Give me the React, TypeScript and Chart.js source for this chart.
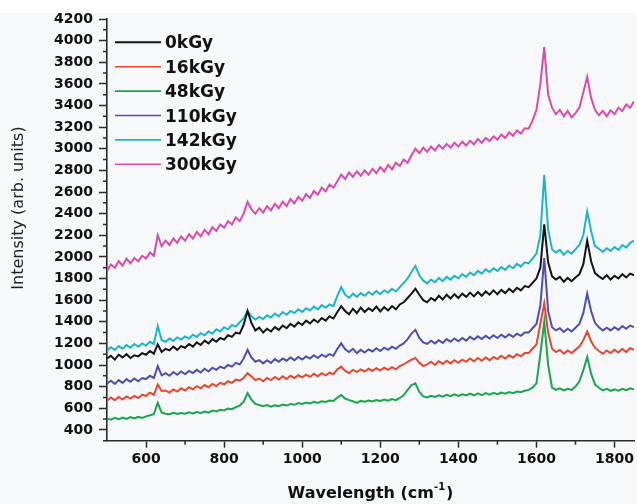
import React, { useEffect, useRef } from 'react';
import { Chart, registerables } from 'chart.js';

Chart.register(...registerables);

// Wavenumber axis: 500 ... 1850 cm-1, sampled every 10 cm-1 (136 points)
const WN_START = 500;
const WN_STEP = 10;
const WN_COUNT = 136;
const wavenumbers: number[] = Array.from({ length: WN_COUNT }, (_, i) => WN_START + i * WN_STEP);

const seriesLabels = ['0kGy', '16kGy', '48kGy', '110kGy', '142kGy', '300kGy'];
const seriesColors = ['#141414', '#e8442e', '#19a54c', '#4b4eb0', '#1cb4c9', '#d94ba8'];

const s0kGy = [
  1060, 1085, 1050, 1095, 1070, 1100, 1065, 1090, 1080, 1110,
  1095, 1130, 1105, 1190, 1120, 1150, 1135, 1170, 1140, 1175,
  1160, 1195, 1170, 1210, 1185, 1225, 1200, 1240, 1215, 1250,
  1235, 1275, 1260, 1300, 1290, 1370, 1500, 1390, 1320, 1345,
  1300, 1335, 1310, 1350, 1325, 1365, 1340, 1380, 1355, 1395,
  1370, 1410, 1385, 1420, 1395, 1435, 1410, 1450, 1430, 1490,
  1545, 1500, 1470, 1520, 1480, 1530, 1490, 1525, 1500, 1540,
  1495, 1535, 1505, 1545, 1515, 1560, 1580, 1620, 1660, 1705,
  1650, 1600, 1580, 1620, 1595, 1640, 1605, 1650, 1615, 1655,
  1620, 1660, 1630, 1670, 1635, 1675, 1640, 1680, 1650, 1690,
  1655, 1695, 1665, 1705, 1675, 1715, 1690, 1730, 1720, 1760,
  1800, 1900, 2300, 1950, 1820, 1790, 1815, 1770, 1805, 1775,
  1810, 1840, 1930, 2150, 1960, 1850, 1820, 1795, 1830, 1790,
  1825, 1800, 1840, 1810, 1845, 1830,
];

const s16kGy = [
  670, 700, 675, 705, 680, 710, 690, 715, 695, 725,
  715, 745, 725, 820, 760, 765, 745, 775, 755, 785,
  765, 795, 775, 805, 785, 815, 795, 825, 805, 835,
  820, 850, 835, 865, 855, 880, 925, 895, 860, 875,
  850, 880, 860, 890, 865, 895, 870, 900, 880, 905,
  885, 910, 890, 920, 895, 925, 905, 930, 915, 960,
  985, 945, 925, 955, 935, 960, 940, 965, 945, 970,
  950, 975, 955, 980, 960, 990, 1005, 1030, 1050, 1065,
  1020, 990, 1005, 1030, 1000, 1035, 1010, 1040, 1015, 1045,
  1020, 1050, 1030, 1060, 1035, 1065, 1040, 1070, 1045, 1075,
  1055, 1085, 1060, 1090, 1070, 1100, 1080, 1110, 1110, 1150,
  1190, 1380, 1570, 1300, 1150, 1120, 1140, 1105, 1135, 1110,
  1140, 1170, 1230, 1310, 1220, 1160, 1130, 1105, 1135, 1110,
  1140, 1115, 1150, 1120, 1155, 1140,
];

const s48kGy = [
  505, 495, 512, 500, 515, 502, 518, 505, 520, 510,
  525, 535, 545, 650, 560, 550, 545, 558, 548, 555,
  550, 562, 552, 565, 556, 570, 560, 578, 570, 585,
  580, 598, 592, 610, 625, 660, 740, 680, 640, 630,
  618, 630, 615, 628, 620, 635, 625, 640, 632, 648,
  640, 652, 645, 660, 650, 665, 658, 672, 668, 700,
  722, 690, 675, 665, 650, 668, 660, 672, 662, 675,
  668, 680, 670, 685, 675, 695, 720, 770, 815, 830,
  750, 710, 700, 715, 705, 720, 708, 725, 712, 728,
  715, 730, 718, 735, 720, 738, 722, 740, 726, 742,
  730, 745, 735, 750, 740, 755, 748, 762, 770, 790,
  830, 1100, 1400, 1000, 790, 770, 785, 765, 780, 770,
  800, 850, 950, 1075, 920, 820, 790, 765, 780, 760,
  775, 762, 780, 768, 785, 772,
];

const s110kGy = [
  830, 855, 825, 860, 835, 870, 845, 875, 850, 880,
  870, 900, 880, 990, 905, 925, 900, 935, 910, 940,
  915, 945, 925, 955, 930, 965, 940, 975, 955, 985,
  970, 1000, 985, 1020, 1005, 1060, 1140, 1070, 1030, 1045,
  1015, 1045, 1020, 1055, 1030, 1060, 1040, 1070, 1045, 1075,
  1050, 1080, 1060, 1090, 1065, 1095, 1075, 1100, 1085, 1150,
  1200, 1145, 1120, 1150, 1110, 1140, 1115, 1145, 1125, 1155,
  1130, 1160, 1140, 1170, 1150, 1180, 1200, 1240, 1290, 1325,
  1250, 1210, 1195, 1225, 1200, 1230, 1205, 1240, 1215, 1245,
  1220, 1250, 1225, 1260, 1235, 1265, 1240, 1270, 1245, 1275,
  1250, 1280, 1255, 1285, 1260, 1290, 1270, 1300, 1300, 1340,
  1380, 1550, 1990, 1500, 1350, 1320, 1340, 1305, 1335, 1310,
  1345, 1380, 1480, 1660, 1500, 1390, 1350, 1320, 1345, 1320,
  1350, 1325, 1360, 1335, 1365, 1350,
];

const s142kGy = [
  1135, 1165, 1140, 1175, 1150, 1185, 1160, 1195, 1170, 1200,
  1180, 1215, 1195, 1360, 1230, 1215, 1245, 1225, 1255, 1235,
  1265, 1245, 1280, 1260, 1295, 1275, 1310, 1290, 1330, 1310,
  1350, 1330, 1370, 1355, 1395, 1430, 1500, 1450, 1420, 1445,
  1425, 1460, 1440, 1475, 1450, 1490, 1465, 1500, 1480, 1515,
  1490, 1525, 1505, 1540, 1515, 1555, 1530, 1560, 1545, 1640,
  1720, 1650, 1620, 1660, 1630, 1665, 1640, 1675, 1650, 1685,
  1655, 1690, 1670, 1705, 1680, 1720, 1760, 1800, 1860, 1915,
  1830, 1780, 1755, 1790, 1765, 1805, 1775, 1815, 1790, 1825,
  1800, 1840, 1815, 1855, 1830, 1870, 1845, 1885, 1860, 1895,
  1870, 1905, 1880, 1920, 1895, 1935, 1910, 1950, 1940, 1985,
  2030, 2200, 2760, 2250, 2070, 2040, 2065, 2020, 2055, 2030,
  2070, 2110, 2200, 2420, 2240, 2100, 2075, 2045, 2080, 2055,
  2090, 2065, 2110, 2085, 2130, 2150,
];

const s300kGy = [
  1870, 1930, 1900, 1960, 1920, 1985, 1940, 1990, 1960, 2010,
  1985, 2040, 2010, 2200, 2100, 2150, 2110, 2170, 2130, 2190,
  2150, 2210, 2170, 2230, 2190, 2250, 2210, 2275, 2240, 2300,
  2270, 2330, 2300, 2365, 2330, 2400, 2510, 2440, 2400, 2450,
  2410, 2470, 2430, 2490, 2450, 2510, 2470, 2535, 2495, 2555,
  2520, 2580, 2545, 2610, 2575, 2640, 2605, 2670, 2640, 2700,
  2760, 2720, 2780, 2740, 2790, 2750, 2800, 2760, 2815, 2775,
  2830, 2790, 2850, 2810, 2870, 2840, 2900, 2870, 2940, 3000,
  2960, 3010, 2970, 3020, 2985, 3035, 3000, 3045, 3010, 3055,
  3020, 3065, 3030, 3075, 3040, 3090, 3055, 3100, 3070, 3115,
  3085, 3130, 3100, 3150, 3120, 3170, 3140, 3190, 3185, 3260,
  3360, 3600, 3940, 3500, 3380, 3320, 3360, 3300, 3350, 3290,
  3330, 3380, 3520, 3665, 3470, 3360, 3310, 3350, 3300, 3355,
  3320, 3380, 3350, 3410, 3380, 3440,
];

const seriesValues = [s0kGy, s16kGy, s48kGy, s110kGy, s142kGy, s300kGy];

// Axis ticks
const xMajorTicks = [600, 800, 1000, 1200, 1400, 1600, 1800];
const xMinorTicks = [500, 700, 900, 1100, 1300, 1500, 1700];
const yMajorTicks = [400, 600, 800, 1000, 1200, 1400, 1600, 1800, 2000, 2200, 2400, 2600, 2800, 3000, 3200, 3400, 3600, 3800, 4000, 4200];
const yMinorTicks = [300, 500, 700, 900, 1100, 1300, 1500, 1700, 1900, 2100, 2300, 2500, 2700, 2900, 3100, 3300, 3500, 3700, 3900, 4100];

const X_MIN = 500;
const X_MAX = 1850;
const Y_MIN = 300;
const Y_MAX = 4200;

const xTitle = 'Wavelength (cm';
const xTitleSup = '-1';
const yTitle = 'Intensity (arb. units)';

const TICK_FONT = { family: 'DejaVu Sans', weight: 'bold' as const, size: 14 };

export default function App() {
  const canvasRef = useRef<HTMLCanvasElement | null>(null);

  useEffect(() => {
    const canvas = canvasRef.current;
    if (!canvas) return;

    const bgPlugin = {
      id: 'bgPlugin',
      beforeDraw(chart: any) {
        const { ctx, width, height } = chart;
        ctx.save();
        ctx.fillStyle = '#ffffff';
        ctx.fillRect(0, 0, width, height);
        ctx.fillStyle = '#f7f8fa';
        ctx.fillRect(0, 13, width, height - 13);
        ctx.restore();
      },
    };

    const decorPlugin = {
      id: 'decorPlugin',
      afterDraw(chart: any) {
        const { ctx, chartArea } = chart;
        const xs = chart.scales.x;
        const ys = chart.scales.y;
        ctx.save();
        // minor ticks
        ctx.strokeStyle = '#2a2a2a';
        ctx.lineWidth = 1.5;
        ctx.beginPath();
        for (const v of yMinorTicks) {
          const py = ys.getPixelForValue(v);
          ctx.moveTo(chartArea.left - 4, py);
          ctx.lineTo(chartArea.left, py);
        }
        for (const v of xMinorTicks) {
          if (v === X_MIN) continue;
          const px = xs.getPixelForValue(v);
          ctx.moveTo(px, chartArea.bottom);
          ctx.lineTo(px, chartArea.bottom + 4);
        }
        ctx.stroke();

        // legend
        const lx0 = 115;
        const lx1 = 161;
        const ly0 = 42.3;
        const ldy = 24.4;
        ctx.font = 'bold 17px "DejaVu Sans"';
        ctx.textAlign = 'left';
        ctx.textBaseline = 'alphabetic';
        chart.data.datasets.forEach((ds: any, i: number) => {
          const y = ly0 + i * ldy;
          ctx.strokeStyle = ds.borderColor;
          ctx.lineWidth = i === 0 ? 2 : 1.6;
          ctx.beginPath();
          ctx.moveTo(lx0, y);
          ctx.lineTo(lx1, y);
          ctx.stroke();
          ctx.fillStyle = '#111';
          ctx.fillText(ds.label, 165, y + 6);
        });

        // x title with superscript
        ctx.fillStyle = '#111';
        ctx.font = 'bold 16px "DejaVu Sans"';
        const w1 = ctx.measureText(xTitle).width;
        ctx.font = 'bold 10px "DejaVu Sans"';
        const w2 = ctx.measureText(xTitleSup).width;
        ctx.font = 'bold 16px "DejaVu Sans"';
        const w3 = ctx.measureText(')').width;
        const total = w1 + w2 + w3 + 1;
        const cx = (chartArea.left + chartArea.right) / 2;
        let tx = cx - total / 2;
        const tb = 498;
        ctx.textAlign = 'left';
        ctx.fillText(xTitle, tx, tb);
        tx += w1;
        ctx.font = 'bold 10px "DejaVu Sans"';
        ctx.fillText(xTitleSup, tx, tb - 8);
        tx += w2 + 1;
        ctx.font = 'bold 16px "DejaVu Sans"';
        ctx.fillText(')', tx, tb);

        // y title
        ctx.save();
        ctx.translate(19, 208);
        ctx.rotate(-Math.PI / 2);
        ctx.font = '16px "DejaVu Sans"';
        ctx.textAlign = 'center';
        ctx.textBaseline = 'middle';
        ctx.fillStyle = '#222';
        ctx.fillText(yTitle, 0, 0);
        ctx.restore();

        ctx.restore();
      },
    };

    const chart = new Chart(canvas, {
      type: 'line',
      data: {
        datasets: seriesLabels.map((label, si) => ({
          label,
          data: wavenumbers.map((x, i) => ({ x, y: seriesValues[si][i] })),
          borderColor: seriesColors[si],
          backgroundColor: seriesColors[si],
          borderWidth: 2,
          pointRadius: 0,
          tension: 0,
          fill: false,
        })),
      },
      options: {
        animation: false,
        responsive: true,
        maintainAspectRatio: false,
        layout: { padding: { top: 19, right: 0, bottom: 0, left: 0 } },
        plugins: {
          legend: { display: false },
          tooltip: { enabled: false },
          title: { display: false },
        },
        scales: {
          x: {
            type: 'linear',
            position: 'bottom',
            min: X_MIN,
            max: X_MAX,
            afterBuildTicks: (scale: any) => {
              scale.ticks = [...xMajorTicks, ...xMinorTicks]
                .sort((a, b) => a - b)
                .map((v) => ({ value: v }));
            },
            afterFit: (scale: any) => {
              scale.height = 504 - 440.7;
            },
            ticks: {
              autoSkip: false,
              maxRotation: 0,
              minRotation: 0,
              padding: 3,
              color: '#111',
              font: TICK_FONT,
              callback: (v: any) => (xMajorTicks.includes(Number(v)) ? String(v) : ''),
            },
            grid: {
              drawOnChartArea: false,
              drawTicks: true,
              tickLength: 7,
              tickWidth: 1.5,
              tickColor: (ctx: any) => (ctx.tick && xMajorTicks.includes(ctx.tick.value) ? '#2a2a2a' : 'rgba(0,0,0,0)'),
            },
            border: { display: true, color: '#2a2a2a', width: 1.6 },
            title: { display: false },
          },
          y: {
            type: 'linear',
            position: 'left',
            min: Y_MIN,
            max: Y_MAX,
            afterBuildTicks: (scale: any) => {
              scale.ticks = [...yMajorTicks, ...yMinorTicks]
                .sort((a, b) => a - b)
                .map((v) => ({ value: v }));
            },
            afterFit: (scale: any) => {
              scale.width = 107;
            },
            ticks: {
              autoSkip: false,
              padding: 6,
              color: '#111',
              font: TICK_FONT,
              callback: (v: any) => (yMajorTicks.includes(Number(v)) ? String(v) : ''),
            },
            grid: {
              drawOnChartArea: false,
              drawTicks: true,
              tickLength: 8,
              tickWidth: 1.5,
              tickColor: (ctx: any) => (ctx.tick && yMajorTicks.includes(ctx.tick.value) ? '#2a2a2a' : 'rgba(0,0,0,0)'),
            },
            border: { display: true, color: '#2a2a2a', width: 1.6 },
            title: { display: false },
          },
        },
      },
      plugins: [bgPlugin, decorPlugin],
    } as any);

    return () => {
      chart.destroy();
    };
  }, []);

  return (
    <div style={{ position: 'fixed', left: 0, top: 0, width: 637, height: 504 }}>
      <canvas ref={canvasRef} />
    </div>
  );
}
